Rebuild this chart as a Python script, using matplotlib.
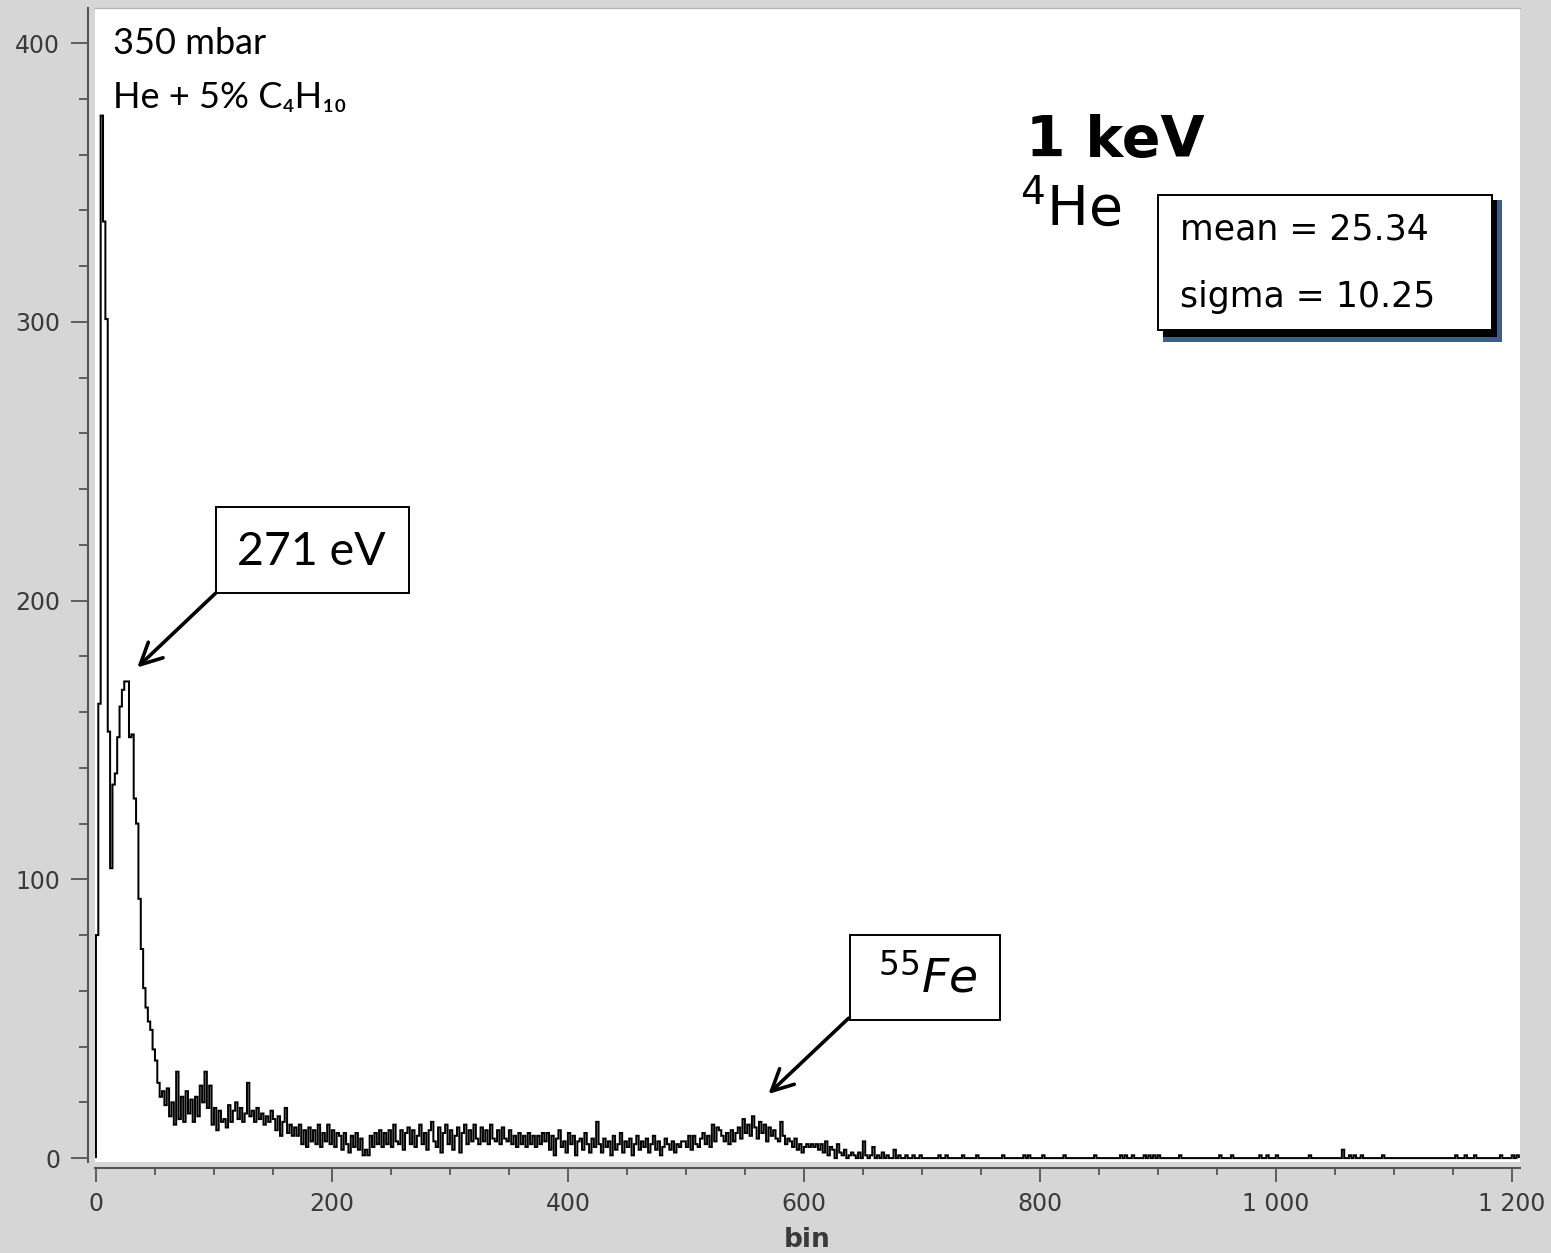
import numpy as np
import matplotlib
matplotlib.use("Agg")
import matplotlib.pyplot as plt
from matplotlib.patches import Rectangle

# ---------------------------------------------------------------------------
# Histogram data: counts per bin (bin width = 2), starting at bin 0
# ---------------------------------------------------------------------------
bin_width = 2
n_bins = 603  # covers 0 .. 1206

# dense part of the spectrum, bins 0 .. 699
counts_main = [
    # 0 - 56 : noise spike and the 271 eV line
    80, 163, 374, 336, 301, 153, 104, 134, 138, 151, 162, 168, 171, 171,
    151, 152, 129, 120, 93, 75, 61, 54, 49, 46, 39, 35, 27, 22,
    # 56 - 80
    24, 19, 25, 15, 20, 12, 31, 14, 22, 13, 24, 16,
    # 80 - 100
    21, 13, 22, 15, 26, 20, 31, 18, 26, 12,
    # 100 - 120
    18, 10, 17, 13, 14, 11, 19, 13, 17, 20,
    # 120 - 150
    14, 18, 13, 16, 27, 15, 17, 13, 18, 14, 16, 12, 15, 13, 17,
    # 150 - 170
    14, 10, 15, 8, 13, 18, 9, 12, 8, 11,
    # 170 - 206
    8, 12, 5, 10, 4, 11, 6, 10, 5, 12, 4, 9, 6, 12, 5, 10, 4, 9,
    # 206 - 240
    8, 3, 9, 5, 2, 8, 4, 9, 3, 7, 1, 3, 1, 8, 4, 9, 5,
    # 240 - 288
    10, 4, 9, 5, 10, 4, 12, 6, 5, 10, 3, 9, 11, 5, 10, 4, 8, 12, 5, 9, 3,
    10, 13, 6,
    # 288 - 316
    4, 11, 2, 9, 12, 5, 10, 3, 8, 11, 2, 9, 12, 5,
    # 316 - 354
    10, 6, 12, 7, 5, 11, 6, 10, 5, 12, 7, 6, 10, 5, 11, 7, 6, 10, 5,
    # 354 - 380
    8, 4, 9, 5, 8, 4, 9, 5, 8, 4, 8, 5, 9,
    # 380 - 426
    6, 9, 3, 8, 1, 7, 10, 4, 6, 2, 9, 5, 8, 1, 6, 7, 3, 9, 5, 2, 7, 4, 13,
    # 426 - 498
    5, 2, 7, 4, 6, 1, 8, 3, 5, 9, 2, 6, 4, 7, 1, 5, 8, 3, 6, 4, 7, 2, 5, 8,
    3, 6, 1, 4, 7, 5, 3, 6, 2, 5, 4, 6,
    # 498 - 542
    6, 4, 8, 3, 8, 5, 4, 7, 9, 5, 8, 4, 12, 6, 11, 10, 8, 6, 9, 5, 10, 6,
    # 542 - 588 : 55Fe bump
    9, 11, 7, 14, 9, 12, 8, 15, 11, 7, 13, 9, 12, 6, 11, 8, 10, 7, 6, 13,
    8, 5, 7,
    # 588 - 614
    6, 4, 7, 3, 5, 2, 4, 5, 4, 5, 4, 5, 3,
    # 614 - 642
    5, 2, 6, 1, 4, 3, 0, 5, 2, 1, 3, 0, 1, 2,
    # 642 - 700
    1, 0, 2, 0, 6, 1, 0, 1, 4, 0, 1, 0, 2, 0, 1, 0, 0, 3, 0, 1, 0, 0, 1, 0,
    0, 1, 0, 0, 1,
]

# sparse tail above 700: bin position and count
tail_positions = [714, 721, 734, 747, 769, 786, 790, 802, 821, 846, 868, 872,
                  878, 889, 893, 897, 901, 918, 952, 963, 986, 993, 1001,
                  1029, 1056, 1062, 1067, 1072, 1090, 1152, 1160, 1168, 1191,
                  1201, 1205]
tail_counts = [1, 1, 1, 1, 1, 1, 1, 1, 1, 1, 1, 1,
               1, 1, 1, 1, 1, 1, 1, 1, 1, 1, 1,
               1, 3, 1, 1, 1, 1, 1, 1, 1, 1,
               1, 1]

x_major_ticks = [0, 200, 400, 600, 800, 1000, 1200]
x_major_labels = ["0", "200", "400", "600", "800", "1 000", "1 200"]
y_major_ticks = [0, 100, 200, 300, 400]

counts = np.zeros(n_bins)
counts[:len(counts_main)] = counts_main
for pos, c in zip(tail_positions, tail_counts):
    counts[pos // bin_width] = c
edges = np.arange(n_bins + 1) * bin_width

# ---------------------------------------------------------------------------
# Figure
# ---------------------------------------------------------------------------
W, H = 1551, 1253
BG = "#d6d6d6"
AXC = "#555555"

fig = plt.figure(figsize=(W / 100, H / 100), dpi=100, facecolor=BG)


def fx(px):
    return px / W


def fy(py):
    return 1 - py / H


ax = fig.add_axes([fx(95), fy(1162), (1520 - 95) / W, (1162 - 8) / H])
ax.set_facecolor("white")

ax.stairs(counts, edges, color="black", linewidth=1.45)

ax.set_xlim(-0.8, 1207)
ax.set_ylim(-1.4, 412.6)

# axes styling
for side in ("left", "bottom"):
    ax.spines[side].set_color(AXC)
    ax.spines[side].set_linewidth(1.5)
ax.spines["left"].set_position(("outward", 5))
ax.spines["bottom"].set_position(("outward", 4.5))
ax.spines["top"].set_color("#b4b4b4")
ax.spines["top"].set_linewidth(1.0)
ax.spines["right"].set_visible(False)

ax.set_xticks(x_major_ticks)
ax.set_xticklabels(x_major_labels)
ax.set_xticks(np.arange(0, 1201, 50), minor=True)
ax.set_yticks(y_major_ticks)
ax.set_yticks(np.arange(0, 401, 20), minor=True)

ax.tick_params(axis="x", which="major", length=10, width=1.3, color=AXC,
               labelsize=17, labelcolor="#3a3a3a", pad=7)
ax.tick_params(axis="x", which="minor", length=5, width=1.3, color=AXC)
ax.tick_params(axis="y", which="major", length=12, width=1.3, color=AXC,
               labelsize=17, labelcolor="#3a3a3a", pad=8)
ax.tick_params(axis="y", which="minor", length=6.5, width=1.3, color=AXC)

ax.set_xlabel("bin", fontsize=19, fontweight="bold", color="#3a3a3a",
              labelpad=8)

# ---------------------------------------------------------------------------
# Annotations
# ---------------------------------------------------------------------------
fig.text(fx(113), fy(44), "350 mbar", fontsize=26, family="Lato",
         ha="left", va="center")
fig.text(fx(113), fy(97), "He + 5% C\u2084H\u2081\u2080", fontsize=26,
         family=["Lato", "DejaVu Sans"], ha="left", va="center")

fig.text(fx(1026), fy(157), "1 keV", fontsize=41, fontweight="bold",
         family="DejaVu Sans", ha="left", va="baseline")
fig.text(fx(1020), fy(225), r"$^{4}$He", fontsize=40, family="DejaVu Sans",
         ha="left", va="baseline")

# statistics box with shadow
fig.patches.append(Rectangle((fx(1163), fy(342)), (1502 - 1163) / W,
                             (342 - 200) / H, transform=fig.transFigure,
                             facecolor="#3d5f8f", edgecolor="none"))
fig.patches.append(Rectangle((fx(1163), fy(337)), (1497 - 1163) / W,
                             (337 - 200) / H, transform=fig.transFigure,
                             facecolor="black", edgecolor="none"))
fig.patches.append(Rectangle((fx(1158), fy(330)), (1492 - 1158) / W,
                             (330 - 195) / H, transform=fig.transFigure,
                             facecolor="white", edgecolor="black",
                             linewidth=1.4))
fig.text(fx(1180), fy(230), "mean = 25.34", fontsize=25,
         family="DejaVu Sans", ha="left", va="center")
fig.text(fx(1180), fy(297), "sigma = 10.25", fontsize=25,
         family="DejaVu Sans", ha="left", va="center")

# 271 eV label box
fig.patches.append(Rectangle((fx(216), fy(593)), (409 - 216) / W,
                             (593 - 507) / H, transform=fig.transFigure,
                             facecolor="white", edgecolor="black",
                             linewidth=1.4, zorder=5))
fig.text(fx(311), fy(552), "271 eV", fontsize=33.5, family="Lato",
         ha="center", va="center", zorder=6)

# 55Fe label box
fig.patches.append(Rectangle((fx(850), fy(1020)), (1000 - 850) / W,
                             (1020 - 935) / H, transform=fig.transFigure,
                             facecolor="white", edgecolor="black",
                             linewidth=1.4, zorder=5))
fig.text(fx(928), fy(978), r"$^{\mathit{55}}$Fe", fontsize=34,
         family="DejaVu Sans", style="italic", ha="center", va="center",
         zorder=6)

arrow_style = dict(arrowstyle="->,head_length=0.7,head_width=0.35",
                   color="black", linewidth=2.6, mutation_scale=22,
                   shrinkA=0, shrinkB=0)
ax.annotate("", xy=(35, 176), xytext=(101.5, 202.7), xycoords="data",
            textcoords="data", arrowprops=arrow_style, annotation_clip=False)
ax.annotate("", xy=(570, 23), xytext=(638, 50.2), xycoords="data",
            textcoords="data", arrowprops=arrow_style, annotation_clip=False)

fig.savefig("out.png", dpi=100, facecolor=BG)
